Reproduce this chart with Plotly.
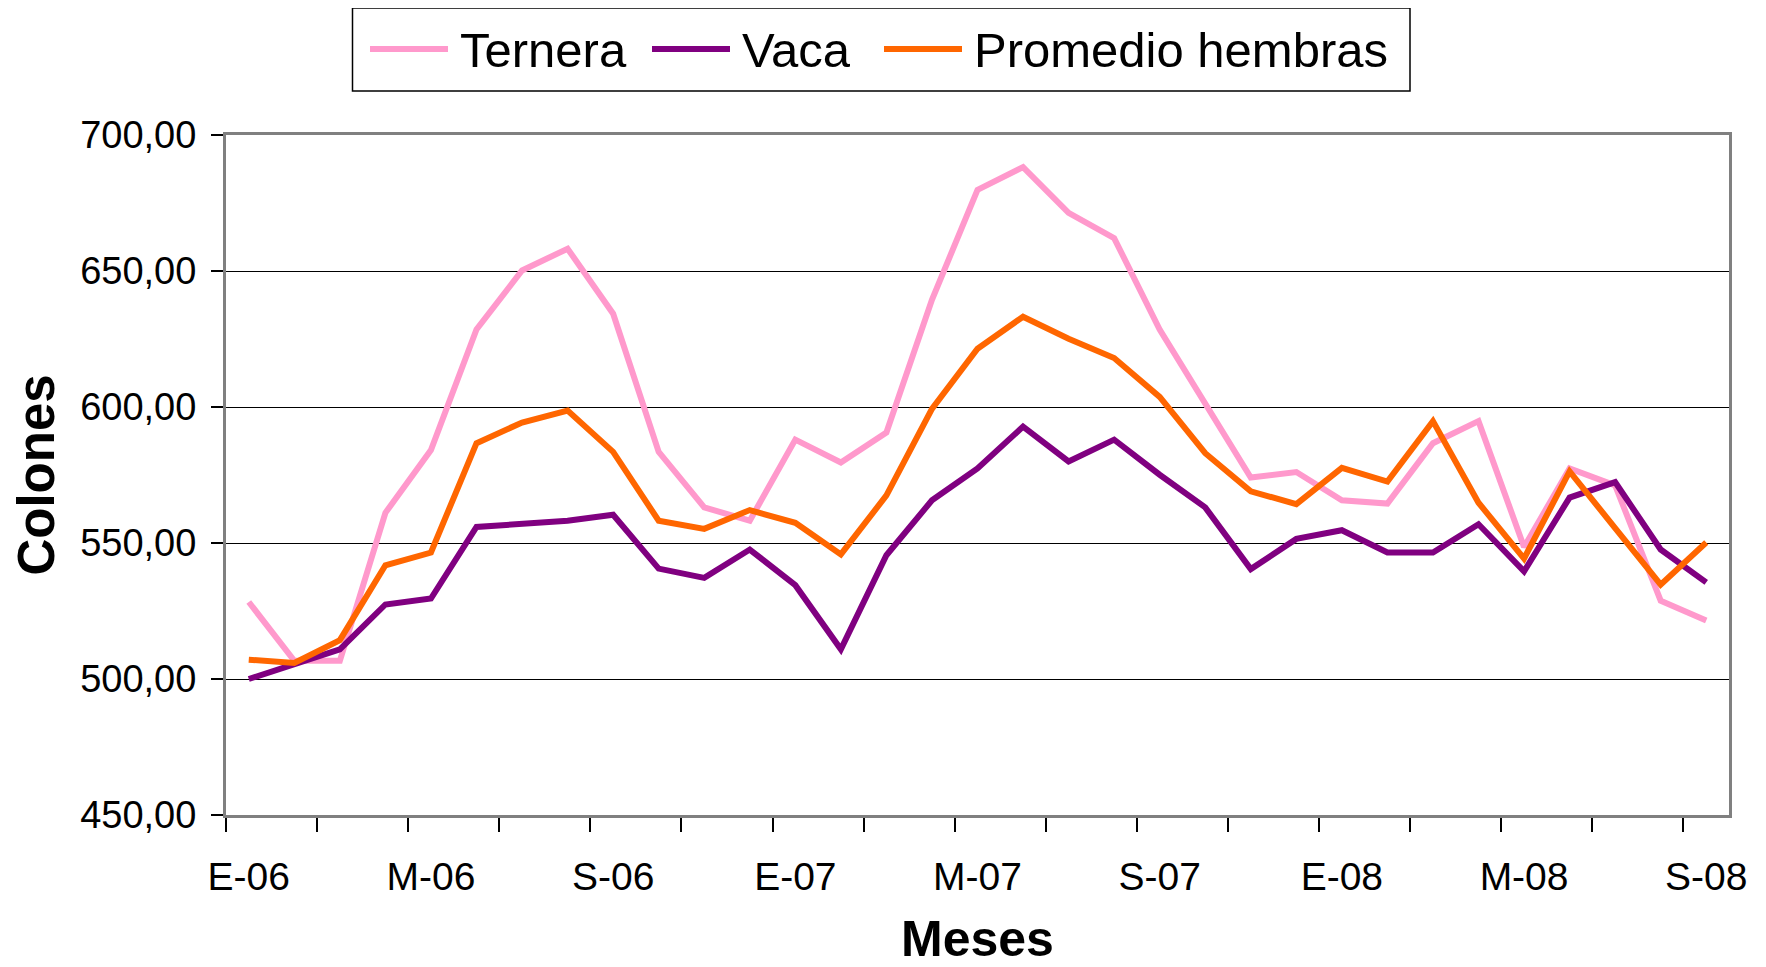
import plotly.graph_objects as go

# ---- data ----
meses = ["E-06", "F-06", "M-06", "A-06", "M-06", "J-06", "J-06", "A-06", "S-06", "O-06", "N-06", "D-06",
         "E-07", "F-07", "M-07", "A-07", "M-07", "J-07", "J-07", "A-07", "S-07", "O-07", "N-07", "D-07",
         "E-08", "F-08", "M-08", "A-08", "M-08", "J-08", "J-08", "A-08", "S-08"]

ternera = [528.3, 506.7, 506.7, 561.1, 584.2, 628.5, 650.2, 658.2, 634.3, 583.5, 563.1, 558.2,
           588.0, 579.6, 590.6, 639.4, 679.8, 688.2, 671.4, 662.1, 628.5, 601.5, 574.1, 576.1,
           565.7, 564.5, 586.7, 594.8, 548.5, 577.4, 571.2, 528.8, 521.5]
vaca = [500.0, 505.6, 510.9, 527.4, 529.6, 555.9, 557.1, 558.2, 560.4, 540.6, 537.2, 547.6,
        534.5, 510.9, 545.5, 565.7, 577.4, 592.8, 580.0, 588.0, 575.1, 563.1, 540.4, 551.5,
        554.7, 546.5, 546.5, 556.9, 539.6, 566.7, 572.4, 547.6, 535.5]
promedio = [507.1, 505.9, 514.3, 541.8, 546.5, 586.7, 594.3, 598.7, 583.5, 558.2, 555.2, 562.1,
            557.4, 545.8, 567.5, 599.3, 621.4, 633.2, 625.1, 618.0, 603.7, 583.0, 569.0, 564.3,
            577.6, 572.6, 594.8, 564.8, 544.3, 576.3, 555.5, 534.7, 550.2]

series_names = ["Ternera", "Vaca", "Promedio hembras"]
series_values = [ternera, vaca, promedio]
series_colors = ["#FF99CC", "#800080", "#FF6600"]

y_ticks = [450, 500, 550, 600, 650, 700]
label_step = 4

FONT = "Liberation Sans, Arial, sans-serif"

x = list(range(len(meses)))
fig = go.Figure()
for name, vals, col in zip(series_names, series_values, series_colors):
    fig.add_trace(go.Scatter(x=x, y=vals, name=name, mode="lines",
                             line=dict(color=col, width=6), showlegend=False))

# page body has an 8px default margin -> figure is drawn from (8, 8)
OFF = 8
W, H = 1766 - OFF, 967 - OFF
ml, mr, mt, mb = 218, 37, 127, 152
pw, ph = W - ml - mr, H - mt - mb


def px_x(p):
    return (p - OFF - ml) / pw


def px_y(p):
    return (H - mb - (p - OFF)) / ph


# ---- manual legend (matches the long line samples of the original) ----
shapes = [dict(type="rect", xref="paper", yref="paper",
               x0=px_x(352.5), x1=px_x(1410), y0=px_y(91), y1=px_y(8),
               line=dict(color="black", width=1.5), fillcolor="white", layer="above")]
annotations = []
leg_x = [370, 652, 884]
for name, col, lx in zip(series_names, series_colors, leg_x):
    shapes.append(dict(type="line", xref="paper", yref="paper",
                       x0=px_x(lx), x1=px_x(lx + 78), y0=px_y(49), y1=px_y(49),
                       line=dict(color=col, width=6)))
    annotations.append(dict(xref="paper", yref="paper", x=px_x(lx + 88), y=px_y(50),
                            xanchor="left", yanchor="middle", showarrow=False,
                            text=name, font=dict(family=FONT, size=49, color="black")))

fig.update_layout(
    width=W, height=H,
    margin=dict(l=ml, r=mr, t=mt, b=mb, autoexpand=False),
    paper_bgcolor="white", plot_bgcolor="white",
    separators=",.",
    font=dict(family=FONT, color="black"),
    shapes=shapes, annotations=annotations,
    showlegend=False,
)

fig.update_xaxes(
    automargin=False,
    range=[-0.5, len(meses) - 0.5],
    tickmode="array",
    tickvals=x[::label_step],
    ticktext=meses[::label_step],
    ticks="", showgrid=False, zeroline=False,
    tickfont=dict(family=FONT, size=39, color="black"),
    ticklabelstandoff=25,
    minor=dict(tick0=-0.5, dtick=2, ticks="outside", ticklen=14, tickcolor="black",
               tickwidth=1.5, showgrid=False),
    showline=True, linecolor="#808080", linewidth=3, mirror=True,
    title=dict(text="<b>Meses</b>", font=dict(family=FONT, size=50, color="black"), standoff=32),
)
fig.update_yaxes(
    automargin=False,
    range=[450, 700],
    tickmode="array", tickvals=y_ticks, tickformat=".2f",
    ticks="outside", ticklen=12, tickcolor="black", tickwidth=1.5,
    tickfont=dict(family=FONT, size=38, color="black"),
    ticklabelstandoff=7,
    showgrid=True, gridcolor="black", gridwidth=1, zeroline=False,
    showline=True, linecolor="#808080", linewidth=3, mirror=True,
    title=dict(text="<b>Colones</b>", font=dict(family=FONT, size=51, color="black"), standoff=19),
)

fig.write_html("out.html")
